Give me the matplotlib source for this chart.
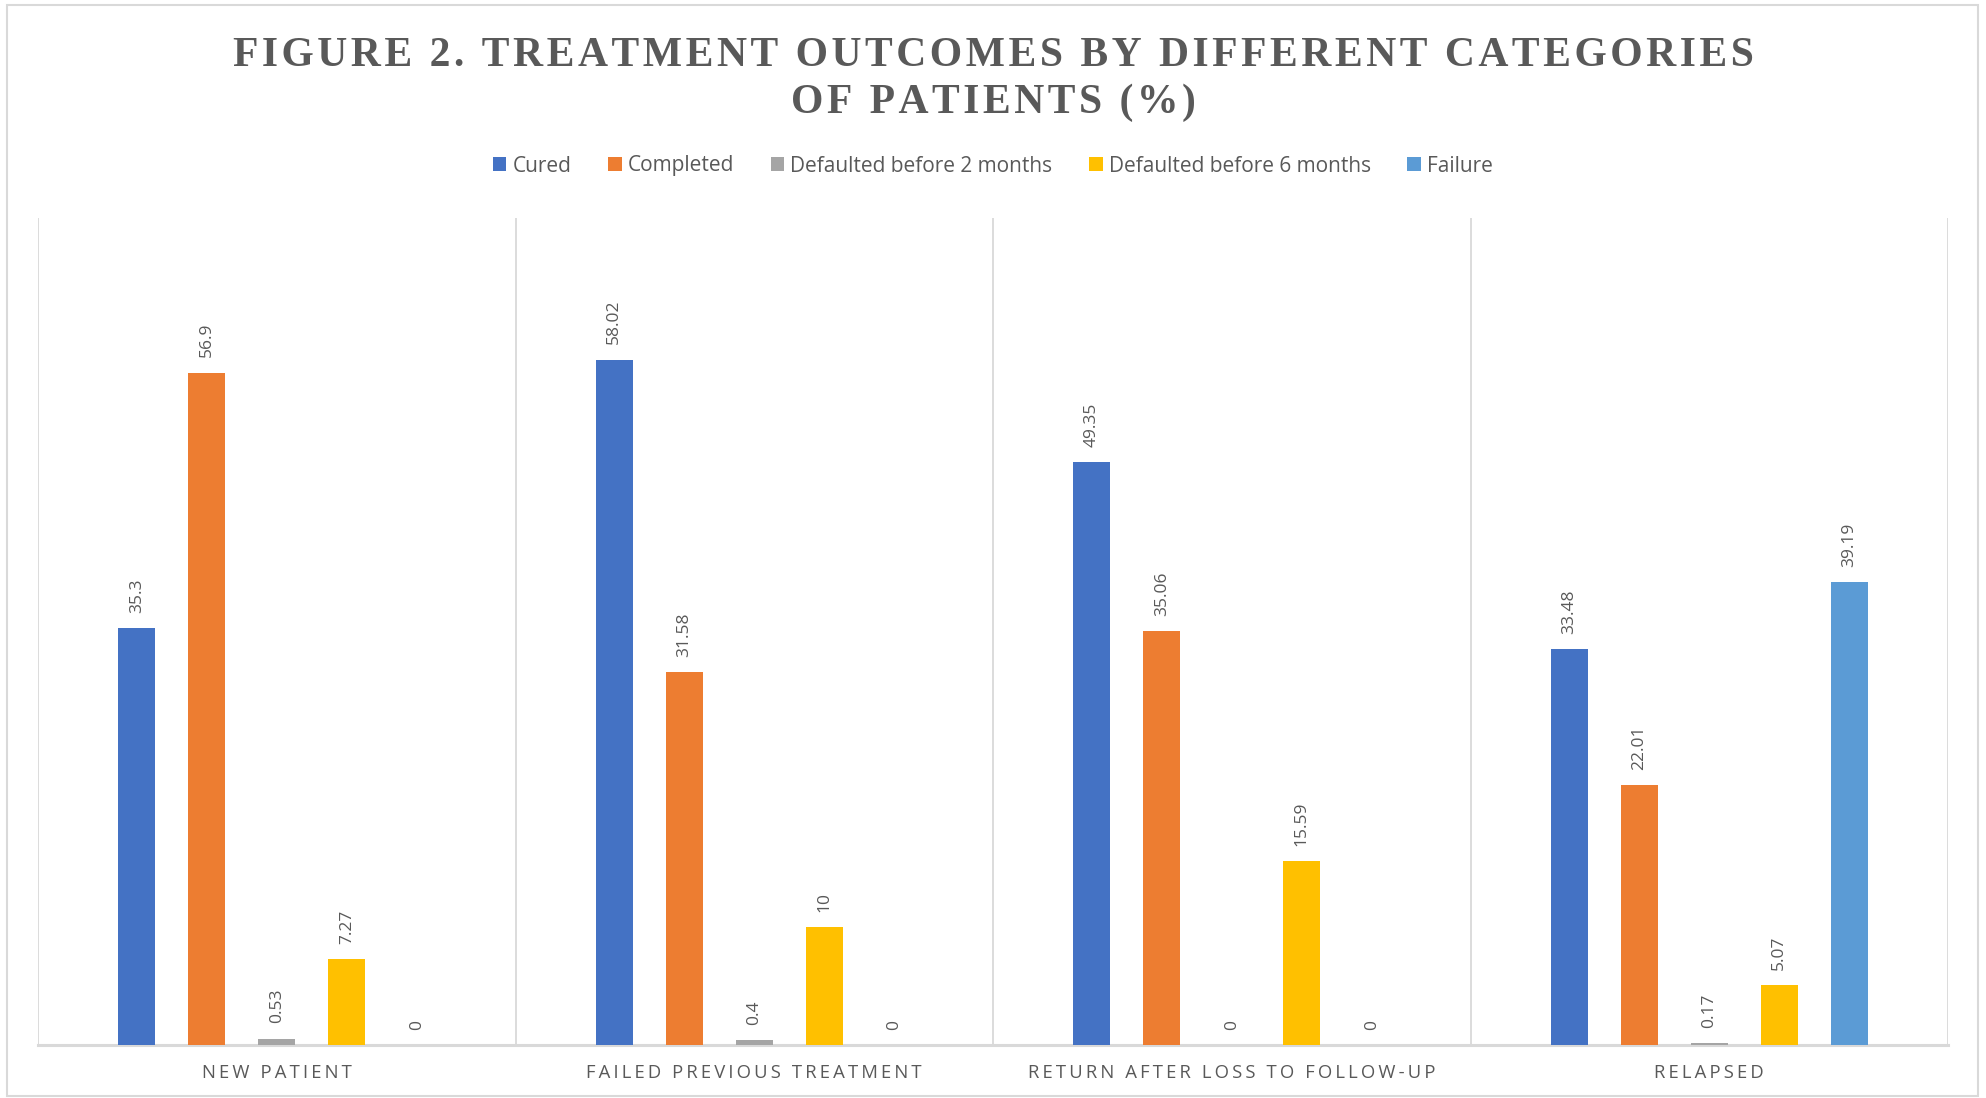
import matplotlib
matplotlib.use("Agg")
import matplotlib.pyplot as plt
import numpy as np
from matplotlib.patches import Rectangle

categories = ["NEW PATIENT", "FAILED PREVIOUS TREATMENT", "RETURN AFTER LOSS TO FOLLOW-UP", "RELAPSED"]
series_names = ["Cured", "Completed", "Defaulted before 2 months", "Defaulted before 6 months", "Failure"]
cured = [35.3, 58.02, 49.35, 33.48]
completed = [56.9, 31.58, 35.06, 22.01]
defaulted_2m = [0.53, 0.4, 0, 0.17]
defaulted_6m = [7.27, 10, 15.59, 5.07]
failure = [0, 0, 0, 39.19]
series_values = [cured, completed, defaulted_2m, defaulted_6m, failure]
colors = ["#4472C4", "#ED7D31", "#A5A5A5", "#FFC000", "#5B9BD5"]
title_lines = ["FIGURE 2. TREATMENT OUTCOMES BY DIFFERENT CATEGORIES", "OF PATIENTS (%)"]


def spaced(s, sep):
    return sep.join(s)


W, H = 1986, 1098
fig = plt.figure(figsize=(W / 100, H / 100), dpi=100)
fig.patch.set_facecolor("white")

# chart-area border
fig.add_artist(Rectangle((7 / W, 2 / H), (1978 - 7) / W, (1093 - 2) / H,
                         transform=fig.transFigure, fill=False,
                         edgecolor="#D9D9D9", linewidth=1.5))

left, right, top, bottom = 38, 1948, 218, 1045
ax = fig.add_axes([left / W, 1 - bottom / H, (right - left) / W, (bottom - top) / H])

n_cat = len(categories)
x = np.arange(n_cat)
step = 0.1466
bw = 0.0775
text_col = "#595959"
lab_font = ["Open Sans", "DejaVu Sans"]

for i, (name, vals, col) in enumerate(zip(series_names, series_values, colors)):
    xs = x + (i - 2) * step
    ax.bar(xs, vals, width=bw, color=col, label=name, zorder=3)
    for xi, v in zip(xs, vals):
        ax.annotate(f"{v:g}", (xi, v), xytext=(0, 11), textcoords="offset points",
                    rotation=90, ha="center", va="bottom", fontsize=12.5,
                    color=text_col, family=lab_font)

ax.set_xlim(-0.5, n_cat - 0.5)
ax.set_ylim(0, 70)
ax.set_yticks([])
ax.set_xticks(x)
ax.set_xticklabels([spaced(c, "\u2009") for c in categories], fontsize=13.3,
                   color=text_col, family=lab_font)
ax.tick_params(axis="x", length=0, pad=14)
for b in np.arange(-0.5, n_cat, 1.0):
    ax.axvline(b, color="#D9D9D9", linewidth=1.3, zorder=1)
for s in ["top", "right", "left"]:
    ax.spines[s].set_visible(False)
ax.spines["bottom"].set_color("#D9D9D9")
ax.spines["bottom"].set_linewidth(2.2)
ax.set_facecolor("none")

title_font = ["Liberation Serif", "DejaVu Serif"]
for line, yy in zip(title_lines, [56, 103]):
    fig.text(0.5, 1 - yy / H, spaced(line, "\u200a"),
             ha="center", va="center", fontsize=30, fontweight="bold",
             family=title_font, color=text_col)

handles, labels = ax.get_legend_handles_labels()
fig.legend(handles, labels, loc="center", bbox_to_anchor=(0.5, 1 - 166 / H),
           ncol=5, frameon=False, handlelength=0.65, handleheight=0.65,
           handletextpad=0.3, columnspacing=1.75,
           prop={"family": lab_font, "size": 15}, labelcolor=text_col)

fig.savefig("out.png", dpi=100, facecolor="white")
